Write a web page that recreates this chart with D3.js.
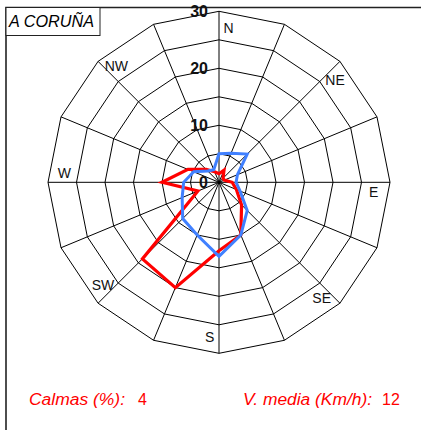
<!DOCTYPE html>
<html>
    <head>
        <script src="https://d3js.org/d3.v7.min.js"></script>
        <style>
            body { margin: 0; background: #fff; }
            svg { display: block; font-family: Arial, "Liberation Sans", sans-serif; }
        </style>
    </head>
    <body>
        <div id="vizBody"></div>
    </body>
    <script>
        //directions (16 sectors, clockwise from N)
        let directions = ["N","NNE","NE","ENE","E","ESE","SE","SSE","S","SSW","SW","WSW","W","WNW","NW","NNW"];
        //labels drawn on the rose
        let dirLabels = ["N","","NE","","E","","SE","","S","","SW","","W","","NW",""];
        //series values (%)
        let redValues  = [1.5, 2.3, 1, 1, 2.3, 3.3, 5.6, 10, 12, 20, 19, 4, 10, 5.9, 3.2, 2];
        let blueValues = [5, 5.5, 7, 3.5, 3, 4, 7, 10, 13, 10, 9, 7, 6.2, 4.8, 2.8, 2.4];
        //rings and labelled ticks
        let rings = [5, 10, 15, 20, 25, 30];
        let tickLabels = [0, 10, 20, 30];
        let title = "A CORUÑA";
        let calmas = 4, vMedia = 12;

        let width = 421, height = 430,
            cx = 219, cy = 182.3,
            maxR = 171;

        let svg = d3.select("#vizBody")
                    .append("svg")
                        .attr("width", width)
                        .attr("height", height);

        let rScale = d3.scaleLinear().domain([0, 30]).range([0, maxR]);
        let aScale = d3.scaleLinear().domain([0, directions.length]).range([0, 2 * Math.PI]);

        //frame
        svg.append("path")
           .attr("d", "M6,430 L6,7.5 L421,7.5")
           .attr("fill", "none")
           .attr("stroke", "#222")
           .attr("stroke-width", 1.6);

        let g = svg.append("g")
                   .attr("transform", "translate(" + cx + "," + cy + ")");

        //polygon rings
        let ringLine = d3.lineRadial()
                         .angle((d, i) => aScale(i))
                         .radius(d => rScale(d))
                         .curve(d3.curveLinearClosed);

        g.selectAll("path.ring")
         .data(rings)
         .enter()
         .append("path")
            .attr("class", "ring")
            .attr("d", r => ringLine(directions.map(() => r)))
            .attr("fill", "none")
            .attr("stroke", "#000")
            .attr("stroke-width", 1);

        //spokes
        g.selectAll("line.spoke")
         .data(directions)
         .enter()
         .append("line")
            .attr("class", "spoke")
            .attr("x1", 0).attr("y1", 0)
            .attr("x2", (d, i) => rScale(30) * Math.sin(aScale(i)))
            .attr("y2", (d, i) => -rScale(30) * Math.cos(aScale(i)))
            .attr("stroke", "#000")
            .attr("stroke-width", 1);

        //data lines
        let dataLine = d3.lineRadial()
                         .angle((d, i) => aScale(i))
                         .radius(d => rScale(d))
                         .curve(d3.curveLinearClosed);

        g.append("path")
         .attr("d", dataLine(redValues))
         .attr("fill", "none")
         .attr("stroke", "#ff0000")
         .attr("stroke-width", 3.2)
         .attr("stroke-linejoin", "miter");

        g.append("path")
         .attr("d", dataLine(blueValues))
         .attr("fill", "none")
         .attr("stroke", "#4080ff")
         .attr("stroke-width", 3)
         .attr("stroke-linejoin", "miter");

        //tick labels
        g.selectAll("text.tick")
         .data(tickLabels)
         .enter()
         .append("text")
            .attr("class", "tick")
            .attr("x", -11)
            .attr("y", d => -rScale(d))
            .attr("dy", "0.36em")
            .attr("text-anchor", "end")
            .attr("font-size", 16)
            .attr("font-weight", "bold")
            .attr("fill", "#111")
            .text(d => d);

        //direction labels
        let offset = 3.5 * Math.PI / 180;
        g.selectAll("text.dir")
         .data(dirLabels)
         .enter()
         .append("text")
            .attr("class", "dir")
            .attr("x", (d, i) => 155 * Math.sin(aScale(i) + offset))
            .attr("y", (d, i) => -155 * Math.cos(aScale(i) + offset))
            .attr("dy", "0.36em")
            .attr("text-anchor", "middle")
            .attr("font-size", 14)
            .attr("fill", "#111")
            .text(d => d);

        //title box
        svg.append("rect")
           .attr("x", 6).attr("y", 7.5)
           .attr("width", 94).attr("height", 28)
           .attr("fill", "#fff")
           .attr("stroke", "#222")
           .attr("stroke-width", 1);

        svg.append("text")
           .attr("x", 9).attr("y", 27)
           .attr("font-size", 16)
           .attr("font-style", "italic")
           .attr("fill", "#000")
           .attr("textLength", 85)
           .attr("lengthAdjust", "spacingAndGlyphs")
           .text(title);

        //bottom texts
        let foot = svg.append("g").attr("fill", "#ff0000").attr("font-size", 16);
        foot.append("text").attr("x", 29).attr("y", 405).attr("font-style", "italic")
            .attr("textLength", 96).attr("lengthAdjust", "spacingAndGlyphs").text("Calmas (%):");
        foot.append("text").attr("x", 138).attr("y", 405).text(calmas);
        foot.append("text").attr("x", 243).attr("y", 405).attr("font-style", "italic")
            .attr("textLength", 129).attr("lengthAdjust", "spacingAndGlyphs").text("V. media (Km/h):");
        foot.append("text").attr("x", 382).attr("y", 405).text(vMedia);
    </script>
</html>
